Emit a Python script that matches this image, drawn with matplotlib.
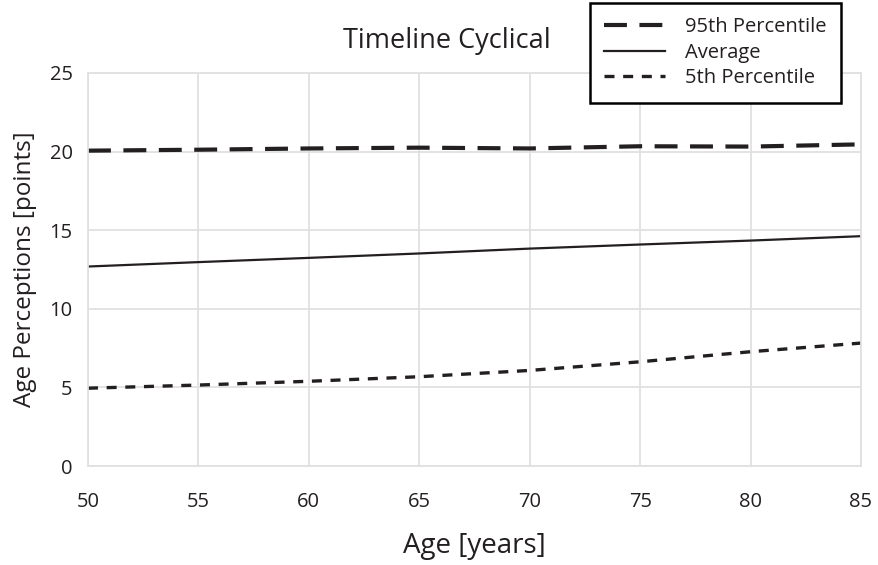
import matplotlib
matplotlib.use("Agg")
import matplotlib.pyplot as plt

plt.rcParams.update({
    "font.family": ["Open Sans", "DejaVu Sans"],
    "font.size": 12,
})

# Data
age = [50, 55, 60, 65, 70, 75, 80, 85]
p95 = [20.06, 20.12, 20.20, 20.25, 20.20, 20.34, 20.32, 20.46]
average = [12.69, 12.97, 13.24, 13.52, 13.83, 14.09, 14.34, 14.62]
p5 = [4.95, 5.15, 5.39, 5.68, 6.08, 6.63, 7.27, 7.82]

x_ticks = [50, 55, 60, 65, 70, 75, 80, 85]
y_ticks = [0, 5, 10, 15, 20, 25]

LINE = "#231f20"
GRID = "#e0e0e0"

fig = plt.figure(figsize=(8.79, 5.65), dpi=100)
ax = fig.add_axes([0.1001, 0.1752, 0.8794, 0.6956])

ax.plot(age, p95, color=LINE, linewidth=3.0, dashes=(5.5, 3.0),
        label="95th Percentile")
ax.plot(age, average, color=LINE, linewidth=1.6, label="Average")
ax.plot(age, p5, color=LINE, linewidth=2.4, dashes=(3.0, 2.6),
        label="5th Percentile")

ax.set_xlim(50, 85)
ax.set_ylim(0, 25)
ax.set_xticks(x_ticks)
ax.set_yticks(y_ticks)
ax.tick_params(axis="both", length=0, labelsize=14.5, colors=LINE)
ax.tick_params(axis="x", pad=19)
ax.tick_params(axis="y", pad=11)

ax.grid(True, color=GRID, linewidth=1.3)
ax.set_axisbelow(True)
for spine in ax.spines.values():
    spine.set_color(GRID)
    spine.set_linewidth(1.3)

ax.set_xlabel("Age [years]", fontsize=20, labelpad=14, color=LINE)
ax.set_ylabel("Age Perceptions [points]", fontsize=17.5, labelpad=9,
              color=LINE)
# title sits left of the axes centre in the reference
fig.text(447 / 879, 1 - 41 / 565, "Timeline Cyclical", fontsize=19.5,
         ha="center", va="center", color=LINE)

leg = fig.legend(loc="upper right", bbox_to_anchor=(841 / 879, 1 - 3 / 565),
                 frameon=True, fancybox=False, edgecolor="black",
                 framealpha=1.0, fontsize=14.5, handlelength=3.0,
                 borderpad=0.72, labelspacing=0.27, handletextpad=1.0,
                 borderaxespad=0)
leg.get_frame().set_linewidth(1.8)
for t in leg.get_texts():
    t.set_color(LINE)

fig.savefig("out.png", dpi=100, facecolor="white")
